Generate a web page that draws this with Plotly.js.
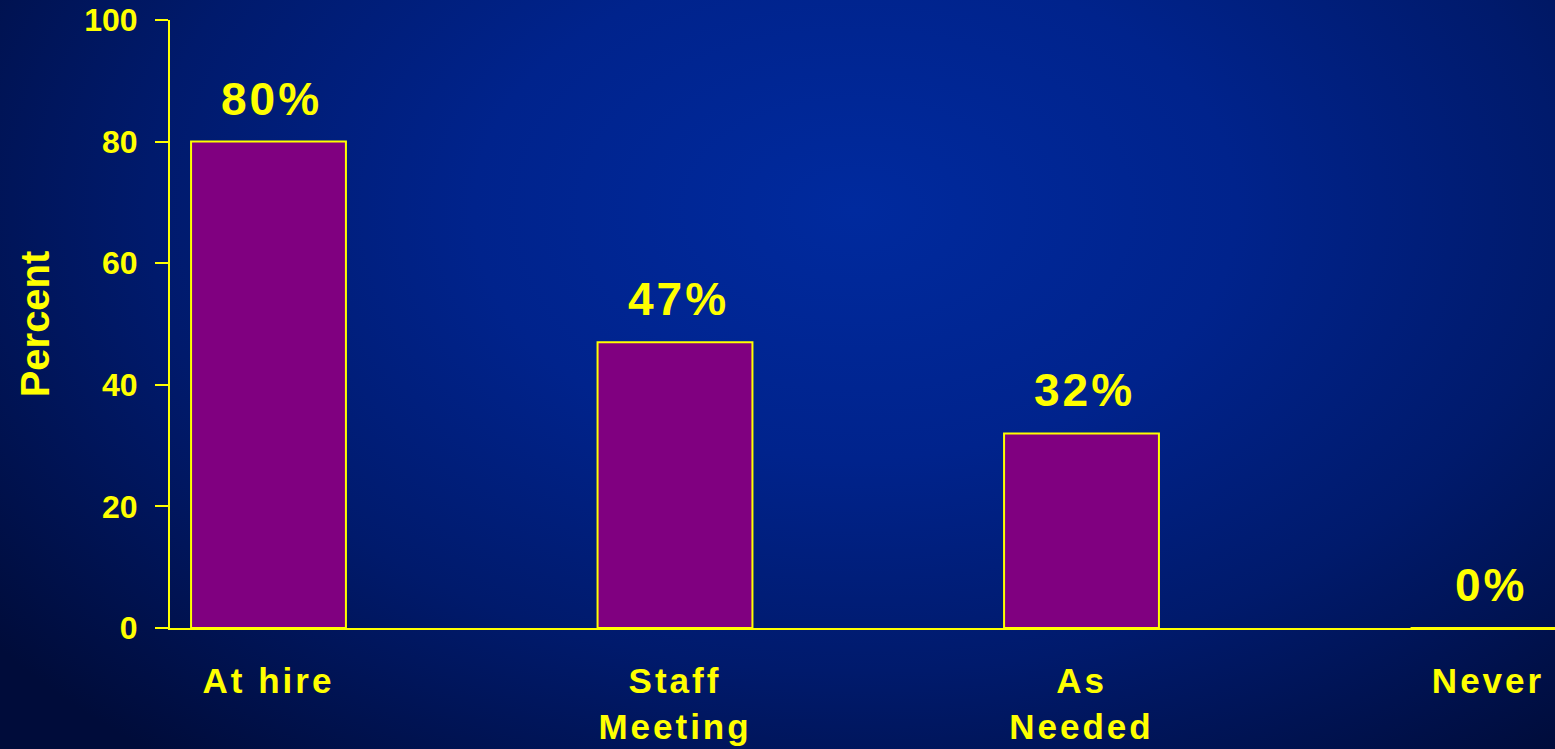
<!DOCTYPE html>
<html>
<head>
<meta charset="utf-8">
<script src="https://cdn.plot.ly/plotly-3.0.1.min.js"></script>
<style>
  html, body { margin: 0; padding: 0; width: 1555px; height: 749px; overflow: hidden; }
  body { background: radial-gradient(ellipse 70% 95% at 55% 28%, #002a9e 0%, #00238c 35%, #001a6c 65%, #000c3a 100%); }
  #chart { width: 1555px; height: 749px; }
  .xtick text { letter-spacing: 3px; }
  .annotation-text { letter-spacing: 3px; }
</style>
</head>
<body>
<div id="chart"></div>
<script>
const categories = ["At hire", "Staff<br>Meeting", "As<br>Needed", "Never"];
const values = [80, 47, 32, 0];
const valueLabels = ["80%", "47%", "32%", "0%"];
const yTicks = [0, 20, 40, 60, 80, 100];

const yellow = "#ffff00";
const font = "Liberation Sans, Arial, sans-serif";

const xIdx = categories.map((_, i) => i);

const trace = {
  type: "bar",
  x: xIdx,
  y: values,
  width: 0.381,
  marker: { color: "#800080", line: { color: yellow, width: 2 } },
  hoverinfo: "none"
};

const annotations = valueLabels.map((t, i) => ({
  x: xIdx[i], y: values[i], xref: "x", yref: "y",
  text: "<b>" + t + "</b>", showarrow: false,
  yanchor: "middle", yshift: 43, xshift: 3,
  font: { family: font, size: 46, color: yellow }
}));

const layout = {
  width: 1555, height: 749,
  paper_bgcolor: "rgba(0,0,0,0)",
  plot_bgcolor: "rgba(0,0,0,0)",
  margin: { l: 170, r: 0, t: 20, b: 121 },
  showlegend: false,
  xaxis: {
    range: [-0.2423, 3.1648],
    tickmode: "array",
    tickvals: xIdx,
    ticktext: categories.map(c => "<b>" + c + "</b>"),
    tickfont: { family: font, size: 35, color: yellow },
    ticks: "", ticklabelstandoff: 21,
    showline: true, linecolor: yellow, linewidth: 2,
    showgrid: false, zeroline: false
  },
  yaxis: {
    range: [0, 100],
    tickmode: "array",
    tickvals: yTicks,
    ticktext: yTicks.map(v => "<b>" + v + "</b>"),
    tickfont: { family: font, size: 32, color: yellow },
    ticks: "outside", ticklen: 13, tickwidth: 2, tickcolor: yellow,
    ticklabelstandoff: 11,
    showline: true, linecolor: yellow, linewidth: 2,
    showgrid: false, zeroline: false,
    title: { text: "<b>Percent</b>", font: { family: font, size: 40, color: yellow }, standoff: 22 }
  },
  annotations: annotations
};

Plotly.newPlot("chart", [trace], layout, { displayModeBar: false, staticPlot: true });
</script>
</body>
</html>
